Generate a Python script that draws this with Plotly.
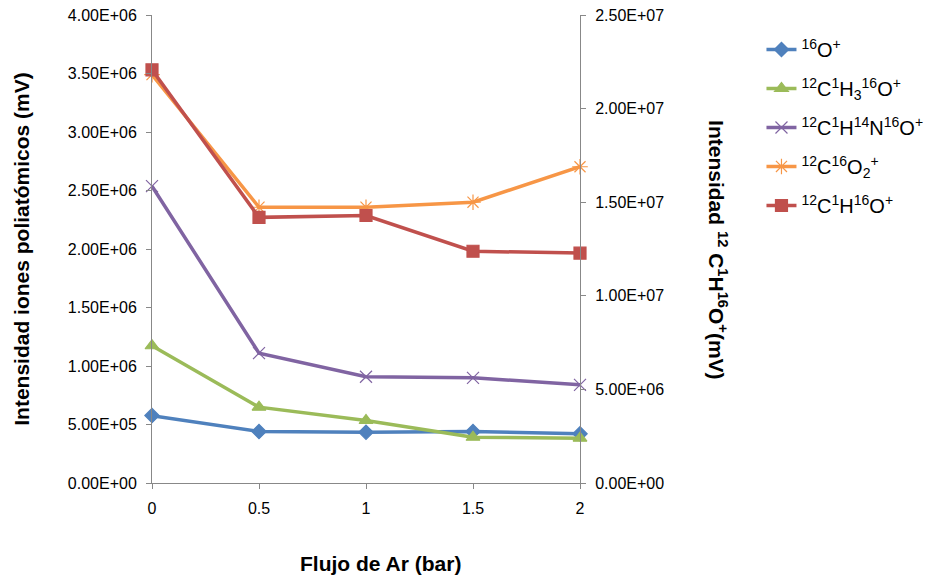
import plotly.graph_objects as go

flujo = [0, 0.5, 1, 1.5, 2]
o16 = [5.76e5, 4.40e5, 4.34e5, 4.40e5, 4.20e5]
ch3o = [1.173e6, 6.48e5, 5.34e5, 3.91e5, 3.83e5]
chno = [2.537e6, 1.11e6, 9.08e5, 8.99e5, 8.39e5]
co2 = [3.49e6, 2.357e6, 2.357e6, 2.40e6, 2.703e6]
cho = [2.207e7, 1.419e7, 1.429e7, 1.238e7, 1.228e7]

names = ["<sup>16</sup>O<sup>+</sup>",
         "<sup>12</sup>C<sup>1</sup>H<sub>3</sub><sup>16</sup>O<sup>+</sup>",
         "<sup>12</sup>C<sup>1</sup>H<sup>14</sup>N<sup>16</sup>O<sup>+</sup>",
         "<sup>12</sup>C<sup>16</sup>O<sub>2</sub><sup>+</sup>",
         "<sup>12</sup>C<sup>1</sup>H<sup>16</sup>O<sup>+</sup>"]

left_ticks = [0, 5e5, 1e6, 1.5e6, 2e6, 2.5e6, 3e6, 3.5e6, 4e6]
left_labels = ["0.00E+00", "5.00E+05", "1.00E+06", "1.50E+06", "2.00E+06",
               "2.50E+06", "3.00E+06", "3.50E+06", "4.00E+06"]
right_ticks = [0, 5e6, 1e7, 1.5e7, 2e7, 2.5e7]
right_labels = ["0.00E+00", "5.00E+06", "1.00E+07", "1.50E+07", "2.00E+07", "2.50E+07"]
x_ticks = [0, 0.5, 1, 1.5, 2]
x_labels = ["0", "0.5", "1", "1.5", "2"]

colors = ["#4F81BD", "#9BBB59", "#8064A2", "#F79646", "#C0504D"]
symbols = ["diamond", "triangle-up", "x-thin-open", "asterisk-open", "square"]
sizes = [11, 12, 12, 13, 12]
series = [o16, ch3o, chno, co2, cho]
axes = ["y", "y", "y", "y", "y2"]

fig = go.Figure()
for i in range(5):
    fig.add_trace(go.Scatter(
        x=flujo, y=series[i], name=names[i], yaxis=axes[i],
        mode="lines+markers", cliponaxis=False,
        line=dict(color=colors[i], width=3.5),
        marker=dict(symbol=symbols[i], size=sizes[i], color=colors[i],
                    line=dict(color=colors[i], width=1.2)),
        legendgroup=str(i),
    ))

FONT = "Liberation Sans, Arial"
tickfont = dict(family=FONT, size=16, color="#000000")
titlefont = dict(family=FONT, size=21, color="#000000")
axis_common = dict(showline=True, linecolor="#888888", linewidth=1,
                   ticks="outside", ticklen=5, tickcolor="#888888",
                   showgrid=False, zeroline=False, tickfont=tickfont,
                   automargin=False, ticklabeloverflow="allow")

fig.update_layout(
    width=939, height=578,
    margin=dict(l=144, r=367, t=7, b=103, autoexpand=False),
    paper_bgcolor="white", plot_bgcolor="white",
    showlegend=True,
    legend=dict(x=1.424, y=0.968, xanchor="left", yanchor="top",
                font=dict(family=FONT, size=20, color="#000"),
                tracegroupgap=10, bgcolor="rgba(0,0,0,0)"),
    xaxis=dict(range=[0, 2], tickvals=x_ticks, ticktext=x_labels,
               ticklabelstandoff=6, **axis_common),
    yaxis=dict(range=[0, 4e6], tickvals=left_ticks, ticktext=left_labels,
               ticklabelstandoff=6,
               title=dict(text="<b>Intensidad iones poliatómicos (mV)</b>", standoff=32,
                          font=titlefont),
               **axis_common),
    yaxis2=dict(range=[0, 2.5e7], tickvals=right_ticks, ticktext=right_labels,
                overlaying="y", side="right", anchor="x", ticklabelstandoff=6,
                **axis_common),
    annotations=[
        dict(text="<b>Intensidad <sup>12</sup> C<sup>1</sup>H<sup>16</sup>O<sup>+</sup>(mV)</b>",
             xref="paper", yref="paper", x=1.322, y=0.498, textangle=90,
             showarrow=False, font=titlefont, xanchor="center", yanchor="middle"),
        dict(text="<b>Flujo de Ar (bar)</b>",
             xref="paper", yref="paper", x=0.535, y=-0.171,
             showarrow=False, font=titlefont, xanchor="center", yanchor="middle"),
    ],
)

fig.write_html("out.html")
